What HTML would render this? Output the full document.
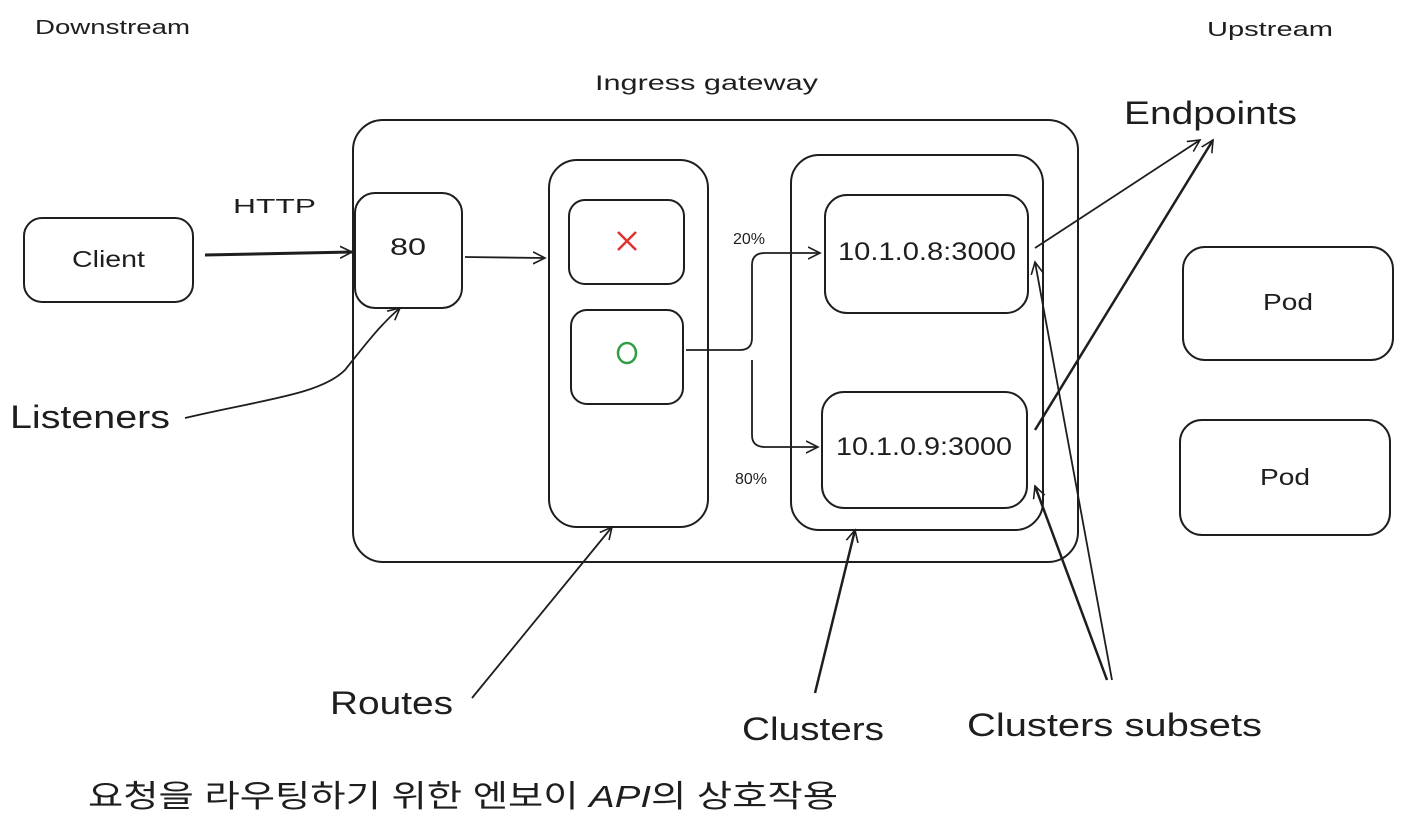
<!DOCTYPE html>
<html><head><meta charset="utf-8"><style>
html,body{margin:0;padding:0;background:#fff;}
svg{display:block;}
text{font-family:"Liberation Sans","Noto Sans CJK KR",sans-serif;fill:#1e1e1e;}
</style></head><body>
<svg width="1403" height="830" viewBox="0 0 1403 830" xmlns="http://www.w3.org/2000/svg">
<defs>
<marker id="ah" markerWidth="14" markerHeight="14" refX="12" refY="7" orient="auto" markerUnits="userSpaceOnUse">
<path d="M0,1 L12,7 L0,13" fill="none" stroke="#1e1e1e" stroke-width="1.6"/>
</marker>
</defs>
<g fill="none" stroke="#1e1e1e" stroke-width="2">
<rect x="353" y="120" width="725" height="442" rx="30"/>
<rect x="24" y="218" width="169" height="84" rx="18"/>
<rect x="355" y="193" width="107" height="115" rx="20"/>
<rect x="549" y="160" width="159" height="367" rx="28"/>
<rect x="569" y="200" width="115" height="84" rx="16"/>
<rect x="571" y="310" width="112" height="94" rx="16"/>
<rect x="791" y="155" width="252" height="375" rx="28"/>
<rect x="825" y="195" width="203" height="118" rx="22"/>
<rect x="822" y="392" width="205" height="116" rx="22"/>
<rect x="1183" y="247" width="210" height="113" rx="22"/>
<rect x="1180" y="420" width="210" height="115" rx="22"/>
</g>
<g fill="none" stroke="#1e1e1e" stroke-width="1.8" marker-end="url(#ah)">
<path d="M205,255 L352,252" stroke-width="3"/>
<path d="M465,257 L545,258"/>
<path d="M686,350 L740,350 Q752,350 752,338 L752,265 Q752,253 765,253 L820,253"/>
<path d="M752,360 L752,435 Q752,447 765,447 L818,447"/>
<path d="M1035,248 L1200,140"/>
<path d="M1035,430 L1213,140" stroke-width="2.5"/>
<path d="M185,418 C260,400 320,395 345,370 C365,345 380,325 400,308"/>
<path d="M472,698 L612,527"/>
<path d="M815,693 L855,530" stroke-width="2.5"/>
<path d="M1112,680 L1035,262"/>
<path d="M1107,680 L1035,486" stroke-width="2.5"/>
</g>
<path d="M618,232 L636,250 M636,232 L618,250" stroke="#e03131" stroke-width="2.5"/>
<ellipse cx="627" cy="353" rx="9" ry="10" fill="none" stroke="#2f9e44" stroke-width="2.5"/>
<g lengthAdjust="spacingAndGlyphs">
<text x="35" y="34" font-size="20" textLength="155" lengthAdjust="spacingAndGlyphs">Downstream</text>
<text x="1207" y="36" font-size="20" textLength="126" lengthAdjust="spacingAndGlyphs">Upstream</text>
<text x="595" y="90" font-size="21" textLength="223" lengthAdjust="spacingAndGlyphs">Ingress gateway</text>
<text x="233" y="213" font-size="20" textLength="83" lengthAdjust="spacingAndGlyphs">HTTP</text>
<text x="72" y="267" font-size="23" textLength="73" lengthAdjust="spacingAndGlyphs">Client</text>
<text x="390" y="255" font-size="24" textLength="36" lengthAdjust="spacingAndGlyphs">80</text>
<text x="733" y="244" font-size="16">20%</text>
<text x="735" y="484" font-size="16">80%</text>
<text x="838" y="260" font-size="25" textLength="178" lengthAdjust="spacingAndGlyphs">10.1.0.8:3000</text>
<text x="836" y="455" font-size="25" textLength="176" lengthAdjust="spacingAndGlyphs">10.1.0.9:3000</text>
<text x="1263" y="310" font-size="23" textLength="50" lengthAdjust="spacingAndGlyphs">Pod</text>
<text x="1260" y="485" font-size="23" textLength="50" lengthAdjust="spacingAndGlyphs">Pod</text>
<text x="1124" y="124" font-size="32" textLength="173" lengthAdjust="spacingAndGlyphs">Endpoints</text>
<text x="10" y="428" font-size="32" textLength="160" lengthAdjust="spacingAndGlyphs">Listeners</text>
<text x="330" y="714" font-size="32" textLength="123" lengthAdjust="spacingAndGlyphs">Routes</text>
<text x="742" y="740" font-size="32" textLength="142" lengthAdjust="spacingAndGlyphs">Clusters</text>
<text x="967" y="736" font-size="32" textLength="295" lengthAdjust="spacingAndGlyphs">Clusters subsets</text>
<text x="88" y="807" font-size="31" textLength="750" lengthAdjust="spacingAndGlyphs">요청을 라우팅하기 위한 엔보이 <tspan font-style="italic">API</tspan>의 상호작용</text>
</g>
</svg>
</body></html>
